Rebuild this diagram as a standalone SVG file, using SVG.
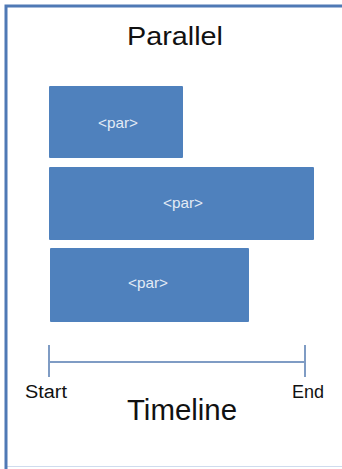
<svg xmlns="http://www.w3.org/2000/svg" width="342" height="469" viewBox="0 0 342 469">
<style>
.box{fill:#4f81bd;}
.lbl{font-family:"Liberation Sans",Arial,sans-serif;font-size:15px;fill:#e3ebf5;text-anchor:middle;}
.dark{font-family:"Liberation Sans",Arial,sans-serif;fill:#111;text-anchor:middle;}
.tl{stroke:#7f9cc4;stroke-width:2;fill:none;}
</style>
<rect x="0" y="0" width="342" height="469" fill="#ffffff"/>
<rect x="6" y="5.5" width="345" height="461" fill="none" stroke="#cfdcee" stroke-width="1"/>
<path d="M6 469 V6 H342" fill="none" stroke="#4f79b5" stroke-width="3"/>
<text class="dark" x="175" y="45" font-size="26" textLength="96" lengthAdjust="spacingAndGlyphs">Parallel</text>
<g id="par1"><rect class="box" x="49" y="86" width="134" height="72" rx="1"/><text class="lbl" x="118" y="128" textLength="40" lengthAdjust="spacingAndGlyphs">&lt;par&gt;</text></g>
<g id="par2"><rect class="box" x="49" y="167" width="265" height="73" rx="1"/><text class="lbl" x="183" y="208" textLength="40" lengthAdjust="spacingAndGlyphs">&lt;par&gt;</text></g>
<g id="par3"><rect class="box" x="50" y="248" width="199" height="74" rx="1"/><text class="lbl" x="148" y="288" textLength="40" lengthAdjust="spacingAndGlyphs">&lt;par&gt;</text></g>
<g id="connectors">
<line class="tl" x1="49" y1="362" x2="305" y2="362"/>
<line class="tl" x1="49" y1="345" x2="49" y2="377"/>
<line class="tl" x1="305" y1="345" x2="305" y2="377"/>
</g>
<text class="dark" x="46" y="398" font-size="18" textLength="42" lengthAdjust="spacingAndGlyphs">Start</text>
<text class="dark" x="308" y="398" font-size="18" textLength="32" lengthAdjust="spacingAndGlyphs">End</text>
<text class="dark" x="182" y="420" font-size="29" textLength="110" lengthAdjust="spacingAndGlyphs">Timeline</text>
</svg>
